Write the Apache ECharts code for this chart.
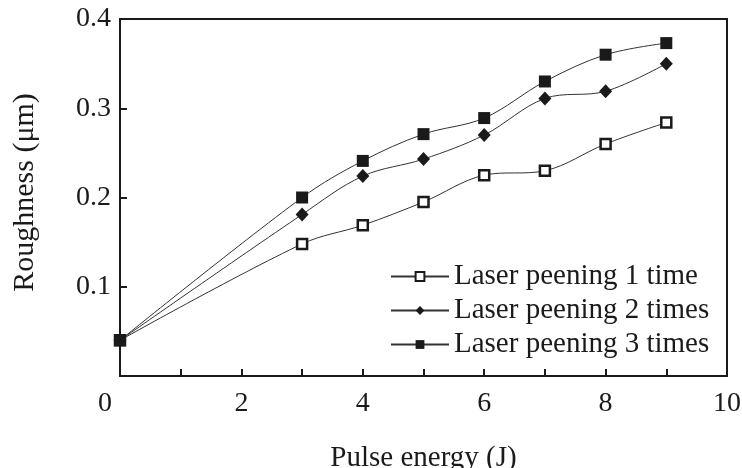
<!DOCTYPE html>
<html>
<head>
<meta charset="utf-8">
<script src="https://cdn.jsdelivr.net/npm/echarts@6/dist/echarts.min.js"></script>
<style>html,body{margin:0;padding:0;background:#fff;}#c{width:742px;height:468px;}</style>
</head>
<body>
<div id="c"></div>
<script>
var pulseEnergy = [0, 3, 4, 5, 6, 7, 8, 9];
var peening1 = [0.040, 0.148, 0.169, 0.195, 0.225, 0.230, 0.260, 0.284];
var peening2 = [0.040, 0.181, 0.224, 0.243, 0.270, 0.311, 0.319, 0.350];
var peening3 = [0.040, 0.200, 0.241, 0.271, 0.289, 0.330, 0.360, 0.373];
var seriesNames = ['Laser peening 1 time', 'Laser peening 2 times', 'Laser peening 3 times'];
var xTickLabels = ['0', '2', '4', '6', '8', '10'];
var yTickLabels = ['0.1', '0.2', '0.3', '0.4'];

function pairs(ys) { return pulseEnergy.map(function (x, i) { return [x, ys[i]]; }); }

var font = 'Liberation Serif';
var ink = '#1a1a1a';
var chart = echarts.init(document.getElementById('c'));
chart.setOption({
  animation: false,
  backgroundColor: '#fff',
  grid: { left: 120, right: 15, top: 19, bottom: 92, outerBoundsMode: 'none', containLabel: false,
          show: true, borderColor: ink, borderWidth: 2, backgroundColor: 'transparent' },
  xAxis: {
    type: 'value', min: 0, max: 10, interval: 1,
    name: 'Pulse energy (J)', nameLocation: 'middle', nameGap: 68,
    nameTextStyle: { fontFamily: font, fontSize: 29, color: ink },
    axisLine: { lineStyle: { color: ink, width: 2 } },
    axisTick: { inside: true, length: 7, lineStyle: { color: ink, width: 2 } },
    splitLine: { show: false },
    axisLabel: {
      fontFamily: font, fontSize: 28, color: ink, margin: 14,
      formatter: function (v) {
        var s = String(v);
        if (xTickLabels.indexOf(s) < 0) return '';
        return v === 0 ? '{z|' + s + '}' : s;
      },
      rich: { z: { fontFamily: font, fontSize: 28, color: ink, padding: [0, 30, 0, 0] } }
    }
  },
  yAxis: {
    type: 'value', min: 0, max: 0.4, interval: 0.1,
    name: 'Roughness (μm)', nameLocation: 'middle', nameGap: 80, nameRotate: 90,
    nameTextStyle: { fontFamily: font, fontSize: 30, color: ink, padding: [0, 0, 0, 10] },
    axisLine: { lineStyle: { color: ink, width: 2 } },
    axisTick: { inside: true, length: 7, lineStyle: { color: ink, width: 2 } },
    splitLine: { show: false },
    axisLabel: {
      fontFamily: font, fontSize: 28, color: ink, margin: 9,
      formatter: function (v) {
        var s = v.toFixed(1);
        return yTickLabels.indexOf(s) >= 0 ? s : '';
      }
    }
  },
  legend: {
    orient: 'vertical', left: 385, top: 257, itemWidth: 58, itemHeight: 11, itemGap: 5,
    textStyle: { fontFamily: font, fontSize: 29, color: ink, lineHeight: 28, padding: [0, 0, 0, 0] },
    data: seriesNames
  },
  series: [
    { name: seriesNames[0], type: 'line', data: pairs(peening1), smooth: 0.35,
      symbol: 'rect', symbolSize: 10,
      itemStyle: { color: '#fff', borderColor: ink, borderWidth: 2.5 },
      lineStyle: { color: '#333', width: 1 } },
    { name: seriesNames[1], type: 'line', data: pairs(peening2), smooth: 0.35,
      symbol: 'diamond', symbolSize: [13, 14],
      itemStyle: { color: ink, borderColor: ink, borderWidth: 0 },
      lineStyle: { color: '#333', width: 1 } },
    { name: seriesNames[2], type: 'line', data: pairs(peening3), smooth: 0.35,
      symbol: 'rect', symbolSize: 12,
      itemStyle: { color: ink, borderColor: ink, borderWidth: 0 },
      lineStyle: { color: '#333', width: 1 } }
  ]
});
</script>
</body>
</html>
